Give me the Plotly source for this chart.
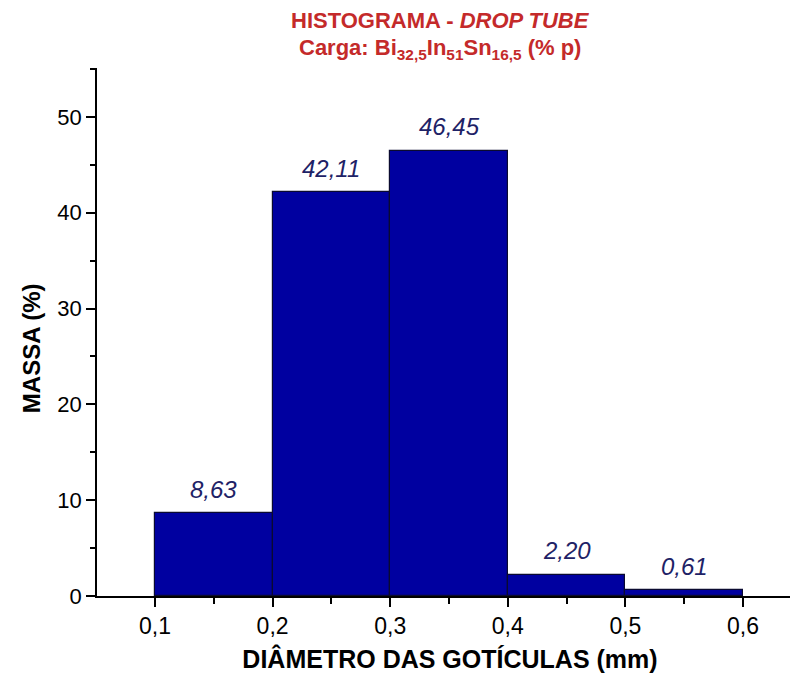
import plotly.graph_objects as go

bin_centers = [0.15, 0.25, 0.35, 0.45, 0.55]
bin_width = 0.1
massa = [8.63, 42.11, 46.45, 2.20, 0.61]
labels = ["8,63", "42,11", "46,45", "2,20", "0,61"]
x_ticks = [0.1, 0.2, 0.3, 0.4, 0.5, 0.6]
x_ticklabels = ["0,1", "0,2", "0,3", "0,4", "0,5", "0,6"]
y_ticks = [0, 10, 20, 30, 40, 50]

FONT = "Liberation Sans, Arial, sans-serif"

fig = go.Figure()
fig.add_trace(go.Bar(
    x=bin_centers, y=massa, width=[bin_width] * len(massa),
    marker=dict(color="#0000A0", line=dict(color="#0A0A30", width=1.2)),
    showlegend=False, hoverinfo="skip",
))

for xc, v, t in zip(bin_centers, massa, labels):
    fig.add_annotation(x=xc, y=v, text="<i>" + t + "</i>", showarrow=False,
                       yanchor="middle", yshift=24,
                       font=dict(family=FONT, size=24, color="#1E2266"))

# title lines
fig.add_annotation(xref="paper", yref="paper", x=0.486, y=1.0909, xanchor="center", yanchor="middle",
                   text="<b>HISTOGRAMA - <i>DROP TUBE</i></b>", showarrow=False,
                   font=dict(family=FONT, size=22, color="#C42A2A"))
fig.add_annotation(xref="paper", yref="paper", x=0.486, y=1.036, xanchor="center", yanchor="middle",
                   text="<b>Carga: Bi<sub>32,5</sub>In<sub>51</sub>Sn<sub>16,5</sub> (% p)</b>", showarrow=False,
                   font=dict(family=FONT, size=22, color="#C42A2A"))

# y-axis title (placed slightly below the plot centre, as in the reference)
fig.add_annotation(xref="paper", yref="paper", x=-0.093, y=0.47, xanchor="center", yanchor="middle",
                   text="<b>MASSA (%)</b>", textangle=-90, showarrow=False,
                   font=dict(family=FONT, size=24, color="black"))

fig.update_layout(
    width=798, height=684,
    margin=dict(l=89, r=3, t=60, b=96),
    paper_bgcolor="white", plot_bgcolor="white",
    bargap=0,
    xaxis=dict(
        range=[0.0507, 0.651], tickvals=x_ticks, ticktext=x_ticklabels,
        showline=True, linecolor="black", linewidth=1.6,
        ticks="outside", ticklen=9, tickwidth=1.6, tickcolor="black",
        minor=dict(dtick=0.05, tick0=0.05, ticks="outside", ticklen=6, tickwidth=1.6, tickcolor="black"),
        showgrid=False, zeroline=False, automargin=False,
        tickfont=dict(family=FONT, size=23, color="black"),
        title=dict(text="<b>DIÂMETRO DAS GOTÍCULAS (mm)</b>", font=dict(family=FONT, size=25, color="black"), standoff=12),
    ),
    yaxis=dict(
        range=[0, 55.1], tickvals=y_ticks,
        showline=True, linecolor="black", linewidth=1.6,
        ticks="outside", ticklen=9, tickwidth=1.6, tickcolor="black",
        minor=dict(dtick=5, ticks="outside", ticklen=5, tickwidth=1.6, tickcolor="black"),
        showgrid=False, zeroline=False, automargin=False,
        tickfont=dict(family=FONT, size=22, color="black"),
    ),
)

fig.write_html("out.html")
